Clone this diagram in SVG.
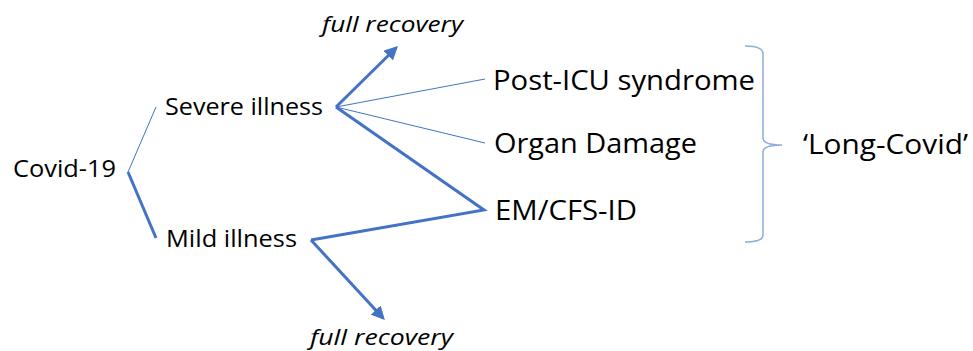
<svg xmlns="http://www.w3.org/2000/svg" width="973" height="351" viewBox="0 0 973 351">
<style>
text{font-family:"Open Sans","Liberation Sans",sans-serif;fill:#000}
.s{font-size:24px}
.l{font-size:27.5px}
.i{font-size:22px;font-style:italic}
.thin{stroke:#4472C4;stroke-width:1;fill:none}
.thick{stroke:#4472C4;stroke-width:3;fill:none;stroke-linejoin:miter}
.brace{stroke:#8FAADC;stroke-width:1.5;fill:none}
</style>
<defs>
<marker id="ah" viewBox="0 0 10 10" refX="8" refY="5" markerWidth="4.5" markerHeight="4.5" orient="auto" markerUnits="strokeWidth">
<path d="M0,0 L10,5 L0,10 z" fill="#4472C4"/>
</marker>
</defs>
<g id="connectors">
<line class="thin" x1="128" y1="172" x2="156" y2="107"/>
<line class="thick" x1="128" y1="172" x2="156" y2="238"/>
<line class="thick" x1="336" y1="107" x2="396" y2="48" marker-end="url(#ah)"/>
<line class="thin" x1="336" y1="107" x2="485" y2="79"/>
<line class="thin" x1="336" y1="107" x2="485" y2="143"/>
<polyline class="thick" points="336,107 484,210 311,240"/>
<line class="thick" x1="311" y1="240" x2="383" y2="318" marker-end="url(#ah)"/>
<path class="brace" d="M745,46 Q763,46 763,54 L763,138 Q763,145 782,145 Q763,145 763,152 L763,235 Q763,242 745,242"/>
</g>
<g id="covid"><text class="s" x="13" y="177" textLength="103" lengthAdjust="spacingAndGlyphs">Covid-19</text></g>
<g id="severe"><text class="s" x="165" y="115" textLength="158" lengthAdjust="spacingAndGlyphs">Severe illness</text></g>
<g id="mild"><text class="s" x="166" y="247" textLength="131" lengthAdjust="spacingAndGlyphs">Mild illness</text></g>
<g id="fullrec-top"><text class="i" x="322" y="32" textLength="141" lengthAdjust="spacingAndGlyphs">full recovery</text></g>
<g id="fullrec-bottom"><text class="i" x="310" y="345" textLength="143" lengthAdjust="spacingAndGlyphs">full recovery</text></g>
<g id="posticu"><text class="l" x="493" y="90" textLength="262" lengthAdjust="spacingAndGlyphs">Post-ICU syndrome</text></g>
<g id="organ"><text class="l" x="494" y="153" textLength="203" lengthAdjust="spacingAndGlyphs">Organ Damage</text></g>
<g id="emcfs"><text class="l" x="495" y="220" textLength="142" lengthAdjust="spacingAndGlyphs">EM/CFS-ID</text></g>
<g id="longcovid"><text class="l" x="803" y="154" textLength="165" lengthAdjust="spacingAndGlyphs">‘Long-Covid’</text></g>
</svg>
